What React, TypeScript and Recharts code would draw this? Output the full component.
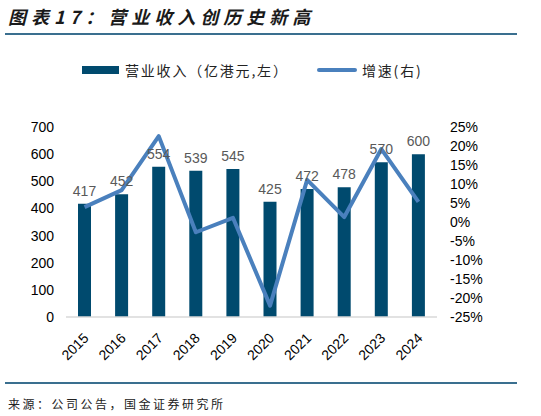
import { ComposedChart, Bar, Line, XAxis, YAxis, LabelList, Legend } from "recharts"

const years = ["2015", "2016", "2017", "2018", "2019", "2020", "2021", "2022", "2023", "2024"]
const revenue = [417, 452, 554, 539, 545, 425, 472, 478, 570, 600]
const growth = [3.9, 8.4, 22.6, -2.7, 1.1, -22.0, 11.1, 1.3, 19.2, 5.3]

const leftTicks = [0, 100, 200, 300, 400, 500, 600, 700]
const rightTicks = [-25, -20, -15, -10, -5, 0, 5, 10, 15, 20, 25]
const boundaryTicks = [0, 1, 2, 3, 4, 5, 6, 7, 8, 9, 10]

const data = years.map((year, i) => ({ year, revenue: revenue[i], growth: growth[i] }))

const BAR_COLOR = "#004a6e"
const LINE_COLOR = "#4a80bd"
const NUM_FONT = "'Liberation Sans', Arial, sans-serif"
const CJK_FONT = "'Noto Sans CJK SC', sans-serif"

function YearTick(props: any) {
  const { x, y, payload } = props
  return (
    <text
      x={x + 5}
      y={y + 14}
      transform={`rotate(-45, ${x + 5}, ${y + 14})`}
      textAnchor="end"
      fontSize={14}
      fontFamily={NUM_FONT}
      fill="#000"
    >
      {payload.value}
    </text>
  )
}

function LegendContent() {
  return (
    <div style={{ position: "relative", height: 20, fontFamily: CJK_FONT, fontSize: 14, color: "#222" }}>
      <div style={{ position: "absolute", left: 82, top: 6, width: 37, height: 8, background: BAR_COLOR }} />
      <div style={{ position: "absolute", left: 125, top: 0, letterSpacing: 1.8, lineHeight: "20px" }}>
        营业收入（亿港元,左）
      </div>
      <div style={{ position: "absolute", left: 317, top: 8, width: 40, height: 4, borderRadius: 2, background: LINE_COLOR }} />
      <div style={{ position: "absolute", left: 362, top: 0, letterSpacing: 1.8, lineHeight: "20px" }}>增速(右)</div>
    </div>
  )
}

export default function App() {
  return (
    <div style={{ position: "absolute", left: 0, top: 0, width: 541, height: 416, background: "#fff" }}>
      <div
        style={{
          position: "absolute",
          left: 8,
          top: 4,
          fontFamily: CJK_FONT,
          fontSize: 18,
          fontWeight: 700,
          fontStyle: "italic",
          letterSpacing: 5,
          color: "#1a1a1a",
          lineHeight: "24px",
        }}
      >
        图表17：营业收入创历史新高
      </div>
      <div style={{ position: "absolute", left: 5, top: 33, width: 512, height: 2, background: "#3a6f8f" }} />

      <div style={{ position: "absolute", left: 0, top: 0 }}>
        <ComposedChart
          width={541}
          height={416}
          data={data}
          margin={{ top: 107, right: 44, bottom: 39, left: 26 }}
        >
          <XAxis
            xAxisId="bounds"
            type="number"
            domain={[0, 10]}
            ticks={boundaryTicks}
            allowDataOverflow
            tick={false}
            tickSize={4}
            tickLine={{ stroke: "#d9d9d9" }}
            axisLine={false}
            height={0}
          />
          <XAxis
            dataKey="year"
            xAxisId="cat"
            tick={<YearTick />}
            tickLine={false}
            axisLine={{ stroke: "#d9d9d9", strokeWidth: 1.5 }}
            interval={0}
            height={60}
          />
          <YAxis
            yAxisId="left"
            domain={[0, 700]}
            ticks={leftTicks}
            axisLine={false}
            tickLine={false}
            tickSize={0}
            tickMargin={12}
            width={40}
            interval={0}
            tick={{ fontSize: 14, fontFamily: NUM_FONT, fill: "#000" }}
          />
          <YAxis
            yAxisId="right"
            orientation="right"
            domain={[-25, 25]}
            ticks={rightTicks}
            axisLine={false}
            tickLine={false}
            tickSize={0}
            tickMargin={13}
            width={60}
            interval={0}
            tickFormatter={(v: number) => `${v}%`}
            tick={{ fontSize: 14, fontFamily: NUM_FONT, fill: "#000", textAnchor: "start" }}
          />
          <Legend
            verticalAlign="top"
            align="left"
            content={<LegendContent />}
            wrapperStyle={{ top: 60, left: 0, width: 541 }}
          />
          <Bar dataKey="revenue" xAxisId="cat" yAxisId="left" fill={BAR_COLOR} barSize={13} isAnimationActive={false}>
            <LabelList
              dataKey="revenue"
              position="top"
              offset={8}
              fill="#595959"
              fontSize={14}
              fontFamily={NUM_FONT}
            />
          </Bar>
          <Line
            dataKey="growth"
            xAxisId="cat"
            yAxisId="right"
            stroke={LINE_COLOR}
            strokeWidth={4}
            dot={false}
            strokeLinejoin="round"
            isAnimationActive={false}
          />
        </ComposedChart>
      </div>

      <div style={{ position: "absolute", left: 5, top: 382, width: 512, height: 2, background: "#3a6f8f" }} />
      <div
        style={{
          position: "absolute",
          left: 8,
          top: 395,
          fontFamily: CJK_FONT,
          fontSize: 12,
          letterSpacing: 2.5,
          color: "#222",
          lineHeight: "18px",
        }}
      >
        来源：公司公告，国金证券研究所
      </div>
    </div>
  )
}
